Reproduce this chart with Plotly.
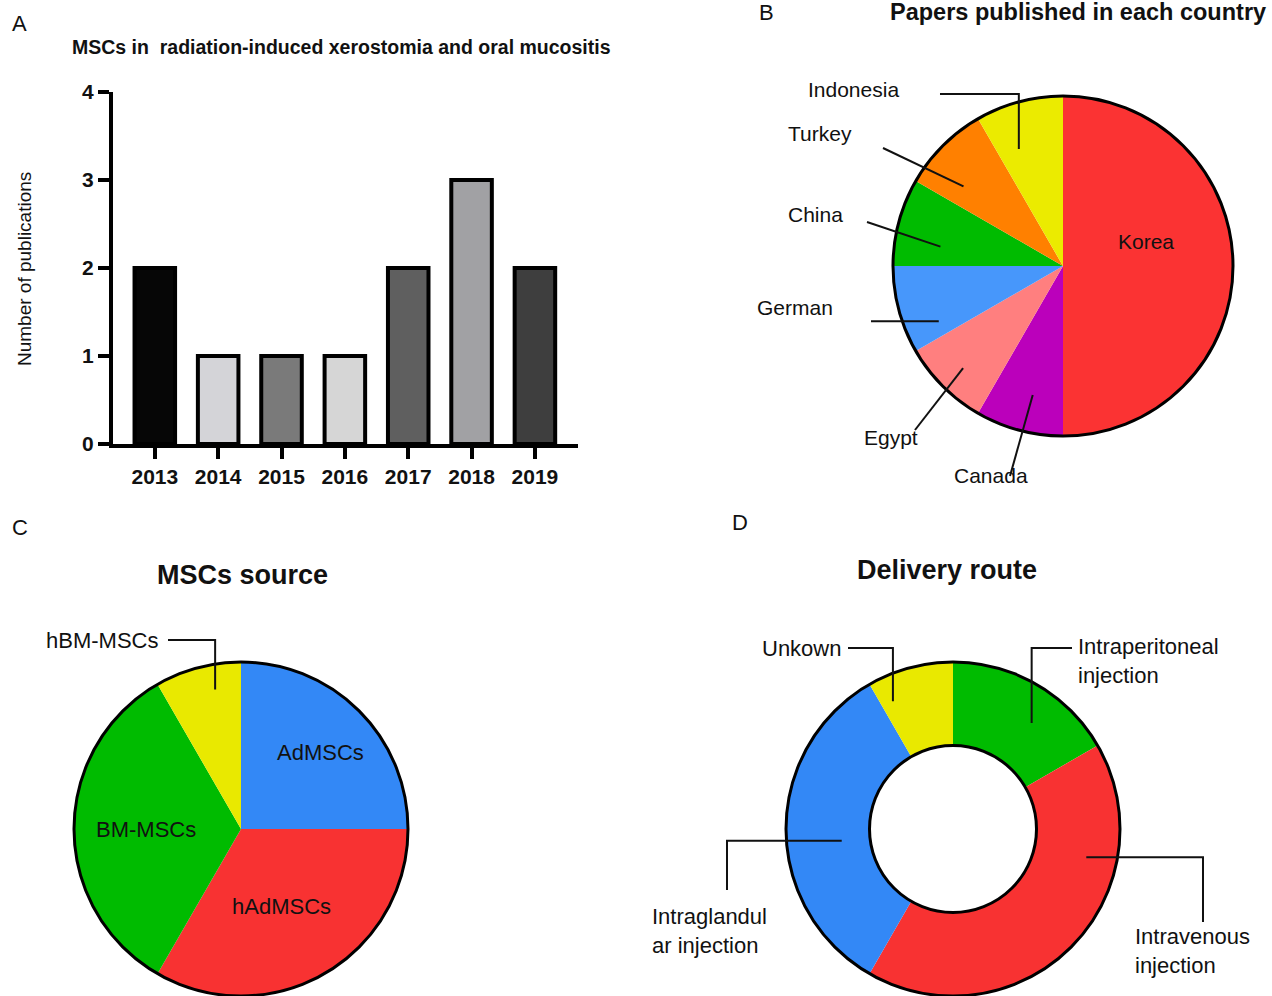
import math
import plotly.graph_objects as go

# ---------------- data ----------------
years = ["2013", "2014", "2015", "2016", "2017", "2018", "2019"]
publications = [2, 1, 1, 1, 2, 3, 2]
bar_colors = ["#060606", "#d4d4d8", "#7a7a7a", "#d6d6d6", "#5f5f5f", "#a1a1a4", "#3e3e3e"]

countries = ["Korea", "Canada", "Egypt", "German", "China", "Turkey", "Indonesia"]
country_papers = [6, 1, 1, 1, 1, 1, 1]
country_colors = ["#fb3333", "#bb00bb", "#ff7f7f", "#4797fb", "#00bb00", "#ff8000", "#ebeb00"]

sources = ["AdMSCs", "hAdMSCs", "BM-MSCs", "hBM-MSCs"]
source_counts = [3, 4, 4, 1]
source_colors = ["#3388f6", "#f83232", "#00bb00", "#e9e900"]

routes = ["Intraperitoneal injection", "Intravenous injection", "Intraglandular injection", "Unkown"]
route_counts = [2, 5, 4, 1]
route_colors = ["#00bb00", "#f83232", "#3388f6", "#e9e900"]

# ---------------- page geometry (pixels) ----------------
W, H = 1272, 996
FONT = "Arial, 'Liberation Sans', sans-serif"


def px(x):
    return x / W


def py(y):
    return 1 - y / H


# pie centres / radii in pixels
PIES = {
    "B": dict(cx=1063, cy=266, r=170),
    "C": dict(cx=241, cy=829, r=167),
    "D": dict(cx=953, cy=829, r=167),
}


def domain(p):
    return dict(x=[px(p["cx"] - p["r"]), px(p["cx"] + p["r"])],
                y=[py(p["cy"] + p["r"]), py(p["cy"] - p["r"])])


fig = go.Figure()

# ---------------- panel A: bar chart ----------------
fig.add_trace(go.Bar(
    x=years, y=publications,
    marker=dict(color=bar_colors, line=dict(color="black", width=4)),
    width=0.64, showlegend=False, hoverinfo="skip",
))

# ---------------- panels B, C, D: pies ----------------
pie_common = dict(sort=False, direction="clockwise", rotation=0, textinfo="none",
                  automargin=False, showlegend=False, hoverinfo="skip")
fig.add_trace(go.Pie(
    labels=countries, values=country_papers,
    marker=dict(colors=country_colors, line=dict(width=0)),
    domain=domain(PIES["B"]), **pie_common,
))
fig.add_trace(go.Pie(
    labels=sources, values=source_counts,
    marker=dict(colors=source_colors, line=dict(width=0)),
    domain=domain(PIES["C"]), **pie_common,
))
fig.add_trace(go.Pie(
    labels=routes, values=route_counts, hole=0.5,
    marker=dict(colors=route_colors, line=dict(width=0)),
    domain=domain(PIES["D"]), **pie_common,
))

shapes = []
annotations = []

# outline circles around pies (outer edge, plus the hole of the donut)
for key, hole in (("B", 0), ("C", 0), ("D", 0.5)):
    p = PIES[key]
    for rr in ([p["r"]] + ([p["r"] * hole] if hole else [])):
        shapes.append(dict(type="circle", xref="paper", yref="paper",
                           x0=px(p["cx"] - rr), x1=px(p["cx"] + rr),
                           y0=py(p["cy"] + rr), y1=py(p["cy"] - rr),
                           line=dict(color="black", width=3)))


def slice_point(key, values, idx, frac, rfrac):
    """Point inside slice idx: frac along its arc, rfrac of the radius."""
    p = PIES[key]
    total = sum(values)
    start = 360.0 * sum(values[:idx]) / total
    span = 360.0 * values[idx] / total
    th = math.radians(start + frac * span)
    rr = p["r"] * rfrac
    return p["cx"] + rr * math.sin(th), p["cy"] - rr * math.cos(th)


def leader(key, values, idx, start, kind, frac, rfrac):
    ax, ay = slice_point(key, values, idx, frac, rfrac)
    sx, sy = start
    if kind == "hv":
        pts = [(sx, sy), (ax, sy), (ax, ay)]
    elif kind == "vh":
        pts = [(sx, sy), (sx, ay), (ax, ay)]
    elif kind == "h":
        pts = [(sx, ay), (ax, ay)]
    else:
        pts = [(sx, sy), (ax, ay)]
    path = "M " + " L ".join(f"{px(x):.5f},{py(y):.5f}" for x, y in pts)
    shapes.append(dict(type="path", xref="paper", yref="paper", path=path,
                       line=dict(color="#111111", width=2)))


# leader lines for panel B
b_leaders = {
    "Indonesia": ((940, 94), "hv", 0.31, 0.735),
    "Turkey": ((883, 148), "line", 0.29, 0.75),
    "China": ((867, 222), "line", 0.30, 0.73),
    "German": ((871, 320), "h", 0.20, 0.80),
    "Egypt": ((915, 430), "line", 0.48, 0.84),
    "Canada": ((1010, 476), "line", 0.44, 0.78),
}
for name, (st, kind, fr, rf) in b_leaders.items():
    leader("B", country_papers, countries.index(name), st, kind, fr, rf)

leader("C", source_counts, sources.index("hBM-MSCs"), (168, 640), "hv", 0.65, 0.85)

d_leaders = {
    "Unkown": ((848, 648), "hv", 0.16, 0.845),
    "Intraperitoneal injection": ((1072, 648), "hv", 0.61, 0.79),
    "Intraglandular injection": ((727, 890), "vh", 0.45, 0.67),
    "Intravenous injection": ((1203, 922), "vh", 0.28, 0.816),
}
for name, (st, kind, fr, rf) in d_leaders.items():
    leader("D", route_counts, routes.index(name), st, kind, fr, rf)


def text(t, x, y, size, xanchor="center", yanchor="middle", bold=False, align="center",
         angle=0, color="#111111"):
    annotations.append(dict(text=t, x=px(x), y=py(y), xref="paper", yref="paper",
                            xanchor=xanchor, yanchor=yanchor, showarrow=False, align=align,
                            textangle=angle,
                            font=dict(family=FONT, size=size, color=color,
                                      weight="bold" if bold else "normal")))


# panel letters
text("A", 19, 24, 22)
text("B", 766, 12, 22)
text("C", 20, 527, 22)
text("D", 740, 522, 22)

# titles
text("MSCs in  radiation-induced xerostomia and oral mucositis", 70, 47, 19.5,
     xanchor="left", bold=True)
text("Papers published in each country", 1268, 12, 23.5, xanchor="right", bold=True)
text("MSCs source", 242, 575, 27, bold=True)
text("Delivery route", 947, 570, 27, bold=True)

# y-axis title of panel A
text("Number of publications", 24, 269, 19, angle=-90)

# panel B labels
text("Korea", 1146, 241, 21)
for name, (x, y) in {"Indonesia": (853, 89), "Turkey": (820, 133), "China": (815, 214),
                     "German": (795, 307), "Egypt": (891, 438), "Canada": (991, 476)}.items():
    text(name, x, y, 21)

# panel C labels
text("hBM-MSCs", 102, 640, 22)
text("AdMSCs", 320, 752, 22)
text("BM-MSCs", 146, 829, 22)
text("hAdMSCs", 281, 906, 22)

# panel D labels
text("Unkown", 801, 648, 22)
text("Intraperitoneal<br>injection", 1076, 661, 22, xanchor="left", align="left")
text("Intraglandul<br>ar injection", 650, 931, 22, xanchor="left", align="left")
text("Intravenous<br>injection", 1133, 951, 22, xanchor="left", align="left")

axis_common = dict(showline=True, linecolor="black", linewidth=4, ticks="outside",
                   ticklen=11, tickwidth=4, tickcolor="black", showgrid=False,
                   zeroline=False, tickfont=dict(family=FONT, size=21, color="#111111",
                                                 weight="bold"))

fig.update_layout(
    width=W, height=H,
    margin=dict(l=0, r=0, t=0, b=0, pad=0, autoexpand=False),
    paper_bgcolor="white", plot_bgcolor="white",
    showlegend=False,
    xaxis=dict(domain=[px(113), px(578)], range=[-0.66, 6.68], type="category",
               **axis_common),
    yaxis=dict(domain=[py(444), py(92)], range=[0, 4], tickvals=[0, 1, 2, 3, 4],
               **axis_common),
    shapes=shapes,
    annotations=annotations,
)

fig.write_html("out.html")
